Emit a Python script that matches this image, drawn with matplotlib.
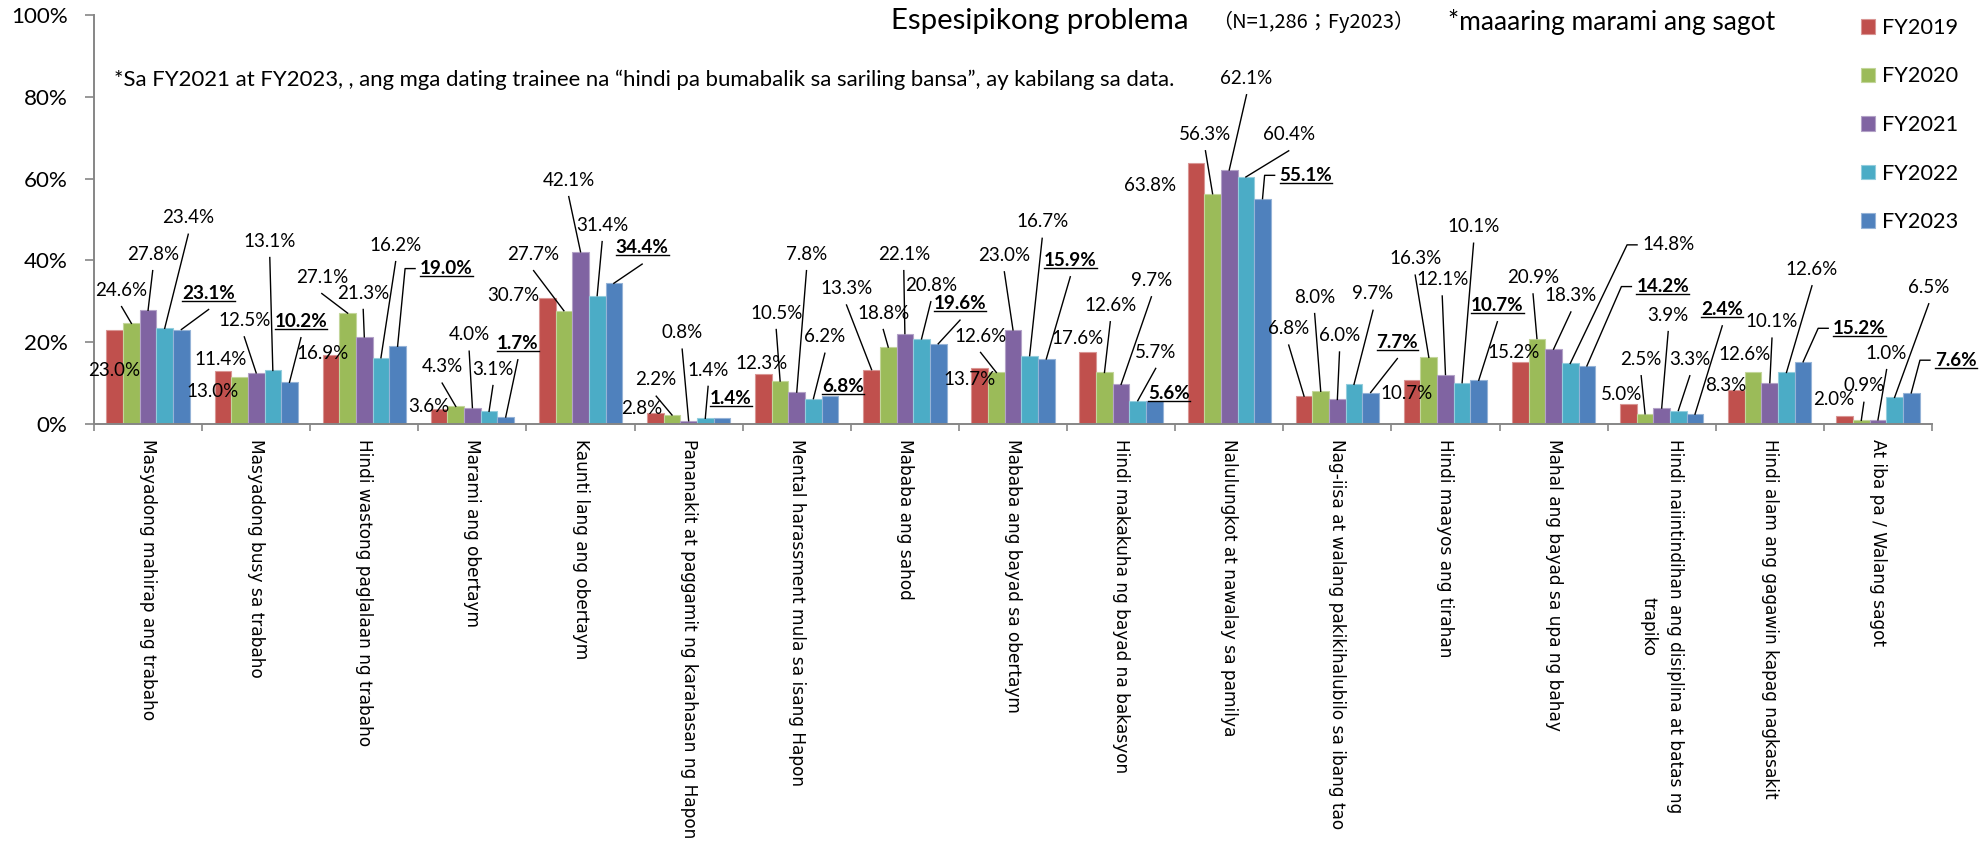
#!/usr/bin/env python3

import numpy as np
import matplotlib
matplotlib.use( 'Agg' )
import matplotlib.pyplot as plt
from matplotlib import font_manager

names = { f.name for f in font_manager.fontManager.ttflist }
txtFont = 'Lato' if 'Lato' in names else 'DejaVu Sans'
catFont = 'DejaVu Sans'
cjkFont = [ 'Noto Sans CJK JP', 'DejaVu Sans' ]

categories = [ 'Masyadong mahirap ang trabaho',
               'Masyadong busy sa trabaho',
               'Hindi wastong paglalaan ng trabaho',
               'Marami ang obertaym',
               'Kaunti lang ang obertaym',
               'Pananakit at paggamit ng karahasan ng Hapon',
               'Mental harassment mula sa isang Hapon',
               'Mababa ang sahod',
               'Mababa ang bayad sa obertaym',
               'Hindi makakuha ng bayad na bakasyon',
               'Nalulungkot at nawalay sa pamilya',
               'Nag-iisa at walang pakikihalubilo sa ibang tao',
               'Hindi maayos ang tirahan',
               'Mahal ang bayad sa upa ng bahay',
               'Hindi naiintindihan ang disiplina at batas ng\ntrapiko',
               'Hindi alam ang gagawin kapag nagkasakit',
               'At iba pa / Walang sagot' ]

years = [ 'FY2019', 'FY2020', 'FY2021', 'FY2022', 'FY2023' ]

fy2019 = [ 23.0, 13.0, 16.9, 3.6, 30.7, 2.8, 12.3, 13.3, 13.7, 17.6,
           63.8, 6.8, 10.7, 15.2, 5.0, 8.3, 2.0 ]
fy2020 = [ 24.6, 11.4, 27.1, 4.3, 27.7, 2.2, 10.5, 18.8, 12.6, 12.6,
           56.3, 8.0, 16.3, 20.9, 2.5, 12.6, 0.9 ]
fy2021 = [ 27.8, 12.5, 21.3, 4.0, 42.1, 0.8, 7.8, 22.1, 23.0, 9.7,
           62.1, 6.0, 12.1, 18.3, 3.9, 10.1, 1.0 ]
fy2022 = [ 23.4, 13.1, 16.2, 3.1, 31.4, 1.4, 6.2, 20.8, 16.7, 5.7,
           60.4, 9.7, 10.1, 14.8, 3.3, 12.6, 6.5 ]
fy2023 = [ 23.1, 10.2, 19.0, 1.7, 34.4, 1.4, 6.8, 19.6, 15.9, 5.6,
           55.1, 7.7, 10.7, 14.2, 2.4, 15.2, 7.6 ]

series = [ fy2019, fy2020, fy2021, fy2022, fy2023 ]

title = 'Espesipikong problema'
sample = '（N=1,286；Fy2023）'
multi = '*maaaring marami ang sagot'
note = ( '*Sa FY2021 at FY2023, , ang mga dating trainee na \u201chindi pa '
         'bumabalik sa sariling bansa\u201d, ay kabilang sa data.' )

# office 2007 palette
color = [ '#C0504D', '#9BBB59', '#8064A2', '#4BACC6', '#4F81BD' ]
edge  = [ '#D99694', '#C3D69B', '#B3A2C7', '#93CDDD', '#95B3D7' ]

# label placement (category units, percent), 'n' = no leader,
# 'l' = straight leader, 'e' = leader with elbow
labPos = [
  [ (-0.31,13.2,'n'), (0.60,7.9,'n'), (1.61,17.3,'n'), (2.60,4.4,'n'),
    (3.377,31.4,'n'), (4.57,3.8,'n'), (5.67,14.8,'n'), (6.46,33.1,'l'),
    (7.60,10.8,'n'), (8.60,20.8,'n'), (9.27,58.4,'n'), (10.55,23.3,'l'),
    (11.64,7.5,'n'), (12.63,17.6,'n'), (13.63,7.1,'n'), (14.59,9.5,'n'),
    (15.59,5.9,'n') ],
  [ (-0.245,32.7,'l'), (0.67,15.8,'n'), (1.607,35.9,'l'), (2.72,14.0,'l'),
    (3.566,41.5,'l'), (4.70,10.8,'l'), (5.81,27.1,'l'), (6.80,27.1,'l'),
    (7.70,21.5,'l'), (8.90,29.0,'l'), (9.78,70.8,'l'), (10.79,31.0,'l'),
    (11.72,40.4,'l'), (12.81,35.8,'l'), (13.81,15.8,'l'), (14.77,16.9,'n'),
    (15.87,9.3,'l') ],
  [ (0.043,41.5,'l'), (0.89,25.3,'l'), (1.99,32.0,'l'), (2.97,21.8,'l'),
    (3.891,59.6,'l'), (4.94,22.3,'l'), (6.09,41.5,'l'), (6.99,41.5,'l'),
    (7.92,41.2,'l'), (9.28,35.1,'l'), (10.16,84.5,'l'), (11.02,21.6,'l'),
    (11.97,35.3,'l'), (13.16,31.4,'l'), (14.06,26.6,'l'), (15.02,25.0,'l'),
    (16.08,17.3,'l') ],
  [ (0.372,50.4,'l'), (1.126,44.7,'l'), (2.29,43.7,'l'), (3.19,13.4,'l'),
    (4.20,48.6,'l'), (5.18,13.2,'l'), (6.26,21.3,'l'), (7.24,33.9,'l'),
    (8.27,49.4,'l'), (9.32,17.6,'l'), (10.55,70.8,'l'), (11.33,31.8,'l'),
    (12.26,48.2,'l'), (14.06,43.8,'e'), (14.26,15.8,'l'), (15.39,37.8,'l'),
    (16.47,33.4,'l') ],
  [ (0.56,32.0,'l'), (1.414,25.1,'l'), (2.76,38.0,'e'), (3.42,19.7,'l'),
    (4.57,43.1,'l'), (5.39,6.3,'n'), (6.43,9.1,'n'), (7.51,29.4,'l'),
    (8.53,40.0,'l'), (9.44,7.5,'n'), (10.71,60.8,'e'), (11.555,20.0,'l'),
    (12.48,29.0,'l'), (14.01,33.6,'e'), (14.56,28.0,'l'), (15.83,23.4,'e'),
    (16.72,15.6,'e') ] ]

W, H = 1984, 847
fig = plt.figure( figsize = ( W / 100, H / 100 ), dpi = 100 )
ax = fig.add_axes( [ 94 / W, 1 - 424 / H, 1838 / W, 409 / H ] )
rend = fig.canvas.get_renderer()

def measure( s, size, **kw ):
    t = fig.text( 0, 0, s, fontsize = size, **kw )
    bb = t.get_window_extent( rend )
    t.remove()
    return bb.width, bb.height

def fitSize( s, target, **kw ):
    # font size (pt) that makes string s about target pixels wide
    wd, _ = measure( s, 20, **kw )
    return 20 * target / wd

x = np.arange( len( categories ) )
w = 0.154

bars = []
for j in range( len( series ) ):
    b = ax.bar( x + ( j - 2 ) * w, series[j], w, color = color[j],
                edgecolor = edge[j], linewidth = 0.8, zorder = 2,
                label = years[j] )
    bars.append( b )

ax.set_xlim( -0.5, len( categories ) - 0.5 )
ax.set_ylim( 0, 100 )

ySize = fitSize( '100%', 57, family = txtFont )
cSize = fitSize( categories[0], 283, family = catFont )

ax.set_yticks( np.arange( 0, 101, 20 ) )
ax.set_yticklabels( [ '{:}%'.format( v ) for v in range( 0, 101, 20 ) ],
                    family = txtFont, fontsize = ySize )
ax.set_xticks( x )
ax.set_xticklabels( categories, rotation = 270, ha = 'center', va = 'top',
                    family = catFont, fontsize = cSize, linespacing = 1.6,
                    multialignment = 'center' )
ax.set_xticks( np.arange( -0.5, len( categories ), 1.0 ), minor = True )

for s in [ 'top', 'right' ]:
    ax.spines[s].set_visible( False )
for s in [ 'left', 'bottom' ]:
    ax.spines[s].set_color( '#868686' )
    ax.spines[s].set_linewidth( 1.4 )

ax.tick_params( axis = 'y', direction = 'out', length = 6.5, width = 1.2,
                color = '#868686', pad = 12.5 )
ax.tick_params( axis = 'x', which = 'major', length = 0, pad = 11 )
ax.tick_params( axis = 'x', which = 'minor', direction = 'out', length = 5,
                width = 1.2, color = '#868686' )

# value labels
vSize = fitSize( '23.4%', 52, family = txtFont )
bSize = fitSize( '23.1%', 53, family = txtFont, fontweight = 'bold' )

texts = []
for j in range( len( series ) ):
    for i in range( len( categories ) ):
        lx, ly, kind = labPos[j][i]
        bold = ( j == 4 )
        t = ax.text( lx, ly, '{:.1f}%'.format( series[j][i] ),
                     ha = 'center', va = 'center', family = txtFont,
                     fontsize = bSize if bold else vSize, zorder = 5,
                     fontweight = 'bold' if bold else 'normal' )
        texts.append( ( t, j, i, kind, bold ) )

fig.canvas.draw()
inv = ax.transData.inverted()

for t, j, i, kind, bold in texts:
    lx, ly, _ = labPos[j][i]
    bx = i + ( j - 2 ) * w
    by = series[j][i]
    bb = t.get_window_extent( rend )
    if kind == 'l':
        ax.plot( [ lx, bx ], [ ly - 4.0, by ], '-', color = 'k', lw = 1.0,
                 zorder = 3, clip_on = False )
    elif kind == 'e':
        yc = ax.transData.transform( ( lx, ly ) )[1]
        p0 = inv.transform( ( bb.x0 - 5, yc ) )
        p1 = inv.transform( ( bb.x0 - 15, yc ) )
        ax.plot( [ p0[0], p1[0], bx ], [ p0[1], p1[1], by ], '-',
                 color = 'k', lw = 1.0, zorder = 3, clip_on = False )
    if bold:
        q0 = inv.transform( ( bb.x0, bb.y0 + 1 ) )
        q1 = inv.transform( ( bb.x1, bb.y0 + 1 ) )
        ax.plot( [ q0[0], q1[0] ], [ q0[1], q1[1] ], '-', color = 'k',
                 lw = 1.0, zorder = 5, clip_on = False )

# legend
lSize = fitSize( 'FY2019', 76, family = txtFont )
lPx = lSize * 100 / 72
_, lH = measure( 'FY2019', lSize, family = txtFont )
ax.legend( handles = bars, labels = years, loc = 'upper left',
           bbox_to_anchor = ( 1861 / W, 1 - ( 28 - lH / 2 ) / H ),
           bbox_transform = fig.transFigure, frameon = False,
           prop = { 'family' : txtFont, 'size' : lSize },
           handlelength = 14 / lPx, handleheight = 14 / lPx,
           handletextpad = 7 / lPx, labelspacing = ( 48.5 - lH ) / lPx,
           borderpad = 0, borderaxespad = 0 )

fig.text( 891 / W, 1 - 21 / H, title, ha = 'left', va = 'center',
          family = txtFont, fontsize = fitSize( title, 298, family = txtFont ) )
fig.text( 1212 / W, 1 - 22 / H, sample, ha = 'left', va = 'center',
          family = cjkFont, fontsize = fitSize( sample, 202, family = cjkFont ) )
fig.text( 1448 / W, 1 - 22 / H, multi, ha = 'left', va = 'center',
          family = txtFont, fontsize = fitSize( multi, 327, family = txtFont ) )
fig.text( 114 / W, 1 - 80 / H, note, ha = 'left', va = 'center',
          family = txtFont, fontsize = fitSize( note, 1063, family = txtFont ) )

plt.savefig( 'out.png', dpi = 100 )
plt.close()
